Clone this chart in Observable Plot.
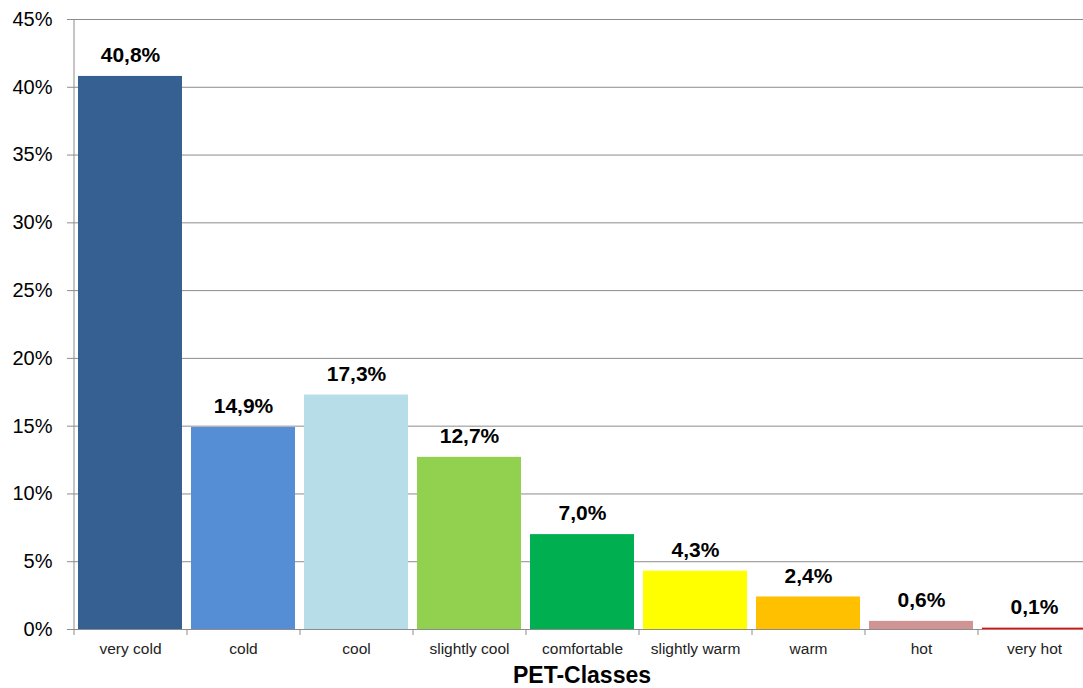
<!DOCTYPE html>
<html>
<head>
<meta charset="utf-8">
<script src="https://cdn.jsdelivr.net/npm/d3@7"></script>
<script src="https://cdn.jsdelivr.net/npm/@observablehq/plot@0.6"></script>
<style>
  html, body { margin: 0; padding: 0; background: #fff; overflow: hidden; }
  #chart svg { font-family: "Liberation Sans", Arial, sans-serif; }
</style>
</head>
<body>
<div id="chart"></div>
<script>
const categories = ["very cold", "cold", "cool", "slightly cool", "comfortable", "slightly warm", "warm", "hot", "very hot"];
const values = [40.8, 14.9, 17.3, 12.7, 7.0, 4.3, 2.4, 0.6, 0.1];
const colors = ["#376092", "#558ED5", "#B7DEE8", "#92D050", "#00B050", "#FFFF00", "#FFC000", "#D09494", "#FF0000"];
const yTicks = [0, 5, 10, 15, 20, 25, 30, 35, 40, 45];
const xTitle = "PET-Classes";

const data = categories.map((c, i) => ({category: c, value: values[i], color: colors[i]}));

const W = 1083, H = 688;
const mL = 73, mR = 0, mT = 19, mB = 59;
// the plot area runs slightly past the right edge of the picture (cropped, as in the reference)
const xRight = 1090;
const step = (xRight - mL) / categories.length;
const pxPerUnit = (H - mT - mB) / 45;
const fmt = v => v.toFixed(1).replace(".", ",") + "%";

const chart = Plot.plot({
  width: W,
  height: H,
  marginLeft: mL,
  marginRight: mR,
  marginTop: mT,
  marginBottom: mB,
  x: {domain: categories, range: [mL, xRight], paddingInner: 0.08, paddingOuter: 0.04, align: 0.5},
  y: {domain: [0, 45]},
  marks: [
    Plot.ruleY(yTicks, {stroke: "#8c8c8c", strokeWidth: 1}),
    Plot.barY(data, {x: "category", y: "value", fill: "color"}),
    // left axis line
    Plot.ruleX([categories[0]], {x: d => d, dx: -step / 2, y1: 0, y2: 45, stroke: "#8c8c8c"}),
    // x band boundary ticks
    Plot.ruleX(categories, {x: d => d, dx: -step / 2, y1: 0, y2: -6 / pxPerUnit, stroke: "#8c8c8c"}),
    Plot.axisY(yTicks, {
      tickFormat: d => d + "%",
      tickSize: 6,
      tickPadding: 15,
      stroke: "#8c8c8c",
      fontSize: 20,
      fill: "#000",
      label: null
    }),
    Plot.axisX({
      tickSize: 0,
      tickPadding: 13,
      fontSize: 15.5,
      fill: "#222",
      label: null
    }),
    Plot.text(data, {
      x: "category",
      y: "value",
      text: d => fmt(d.value),
      dy: -21,
      fontSize: 21,
      fontWeight: "bold",
      fill: "#000"
    }),
    Plot.text([xTitle], {
      frameAnchor: "bottom",
      dx: (xRight - W) / 2,
      dy: 53,
      fontSize: 23,
      fontWeight: "bold",
      fill: "#000"
    })
  ]
});
document.getElementById("chart").appendChild(chart);
</script>
</body>
</html>
